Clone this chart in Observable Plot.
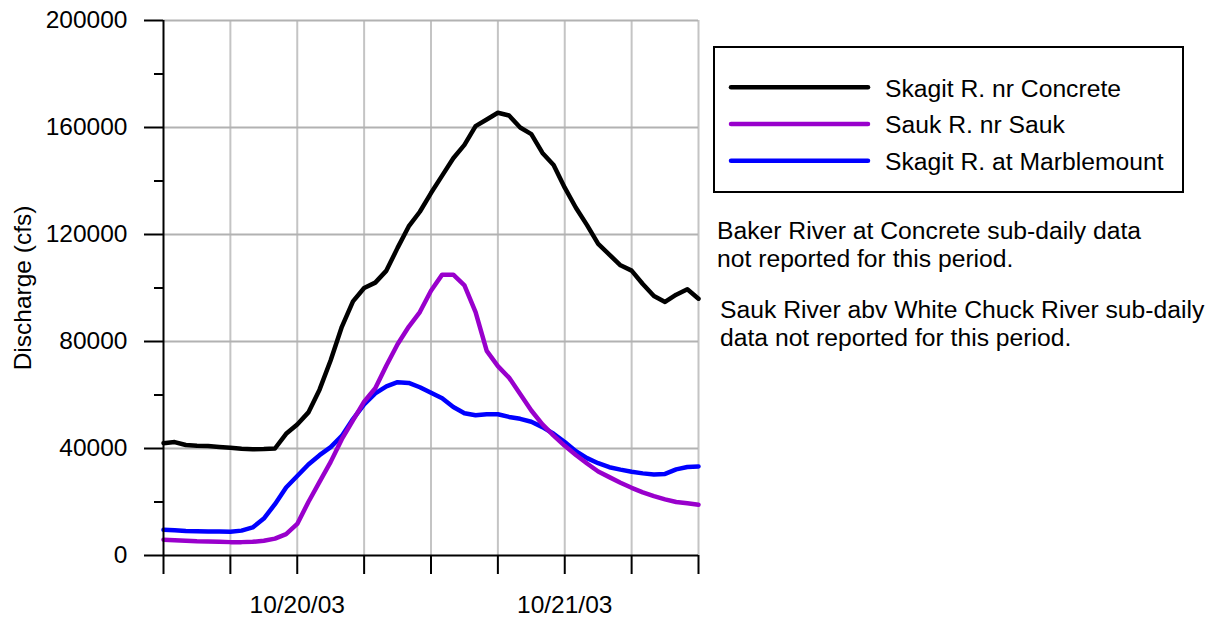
<!DOCTYPE html>
<html>
<head>
<meta charset="utf-8">
<script src="https://cdn.jsdelivr.net/npm/d3@7"></script>
<script src="https://cdn.jsdelivr.net/npm/@observablehq/plot@0.6"></script>
<style>
  html, body { margin: 0; padding: 0; background: #fff; }
  #wrap { position: relative; width: 1213px; height: 619px; font-family: "Liberation Sans", Arial, sans-serif; }
  #overlay { position: absolute; left: 0; top: 0; pointer-events: none; }
</style>
</head>
<body>
<div id="wrap"></div>
<script>
// ---- data (hourly readings from 10/19/03 12:00 to 10/21/03 12:00) ----
const startTime = "2003-10-19T12:00:00Z";
const hourOffsets = [0,1,2,3,4,5,6,7,8,9,10,11,12,13,14,15,16,17,18,19,20,21,22,23,24,
  25,26,27,28,29,30,31,32,33,34,35,36,37,38,39,40,41,42,43,44,45,46,47,48];

const skagitConcrete = [42000,42400,41300,41000,40900,40600,40300,39900,39700,39800,40000,
  45500,49000,53500,62000,73000,85500,95000,100000,102000,106500,115000,123000,128500,135500,
  142000,148500,153500,160500,163000,165500,164500,160000,157500,150500,146000,137500,130000,
  123500,116500,112500,108500,106500,101500,97000,94800,97500,99500,96000];

const saukNrSauk = [5900,5700,5500,5300,5200,5100,5000,5000,5100,5500,6300,8000,11800,20000,
  27500,35000,43500,50500,57500,62500,71000,79000,85500,91000,99000,105000,105000,101000,
  91000,76500,70800,66500,60400,54200,49000,44800,41000,37600,34400,31400,29300,27200,25300,
  23600,22200,21000,20000,19500,19000];

const skagitMarblemount = [9600,9400,9200,9100,9000,9000,8900,9300,10500,13800,19200,25400,
  29700,34000,37500,40500,44700,51000,56500,60600,63200,64800,64500,62900,60800,58800,55500,
  53200,52400,52800,52800,51800,51100,50000,48000,45500,42400,39000,36400,34500,33000,32100,
  31300,30700,30300,30500,32200,33100,33300];

const seriesNames = ["Skagit R. nr Concrete", "Sauk R. nr Sauk", "Skagit R. at Marblemount"];
const seriesColors = ["#000000", "#9900cc", "#0000ff"];
const yTicks = [0, 40000, 80000, 120000, 160000, 200000];
const yMinorTicks = [20000, 60000, 100000, 140000, 180000];
const xTickHours = [0, 6, 12, 18, 24, 30, 36, 42, 48];
const xLabelHours = [12, 36];
const xTickLabels = ["10/20/03", "10/21/03"];
const notes = [
  ["Baker River at Concrete sub-daily data", "not reported for this period."],
  ["Sauk River abv White Chuck River sub-daily", "data not reported for this period."]
];

// ---- build table ----
const t0 = new Date(startTime).getTime();
const toDate = h => new Date(t0 + h * 3600 * 1000);
const valuesBySeries = [skagitConcrete, saukNrSauk, skagitMarblemount];
const rows = [];
// draw order: Marblemount, Sauk, Concrete (black on top)
[2, 1, 0].forEach(si => {
  hourOffsets.forEach((h, i) => {
    rows.push({series: seriesNames[si], time: toDate(h), value: valuesBySeries[si][i]});
  });
});

const xTicks = xTickHours.map(toDate);
const xLabelTicks = xLabelHours.map(toDate);

const chart = Plot.plot({
  width: 1213,
  height: 619,
  marginLeft: 163,
  marginRight: 515,
  marginTop: 20,
  marginBottom: 64,
  style: {fontFamily: '"Liberation Sans", Arial, sans-serif', fontSize: "24px", color: "#000", background: "#fff", overflow: "visible"},
  x: {type: "utc", domain: [toDate(0), toDate(48)]},
  y: {domain: [0, 200000]},
  color: {domain: seriesNames, range: seriesColors},
  marks: [
    Plot.gridX(xTicks.slice(1), {stroke: "#c4c4c4", strokeOpacity: 1, strokeWidth: 2}),
    Plot.gridY(yTicks.slice(1), {stroke: "#b2b2b2", strokeOpacity: 1, strokeWidth: 2}),
    Plot.line(rows, {x: "time", y: "value", z: "series", stroke: "series", strokeWidth: 4.5,
      strokeLinejoin: "round", strokeLinecap: "round"}),
    Plot.ruleY([0], {stroke: "#000", strokeWidth: 2}),
    Plot.ruleX([toDate(0)], {stroke: "#000", strokeWidth: 2}),
    Plot.axisY(yTicks, {tickSize: 19, tickPadding: 17, strokeWidth: 2, fontSize: 24.5,
      tickFormat: d => String(d), label: null}),
    Plot.axisY(yMinorTicks, {tickSize: 9, strokeWidth: 2, tickFormat: () => "", label: null}),
    Plot.axisX(xTicks, {tickSize: 19, strokeWidth: 2, tickFormat: () => "", label: null}),
    Plot.axisX(xLabelTicks, {tickSize: 0, tickPadding: 40, fontSize: 24.5,
      tickFormat: d => xTickLabels[xLabelTicks.findIndex(t => +t === +d)], label: null}),
    Plot.text(["Discharge (cfs)"], {frameAnchor: "left", rotate: -90, dx: -140, fontSize: 24.5,
      text: d => d, textAnchor: "middle"})
  ]
});

const wrap = document.getElementById("wrap");
wrap.appendChild(chart);

// ---- legend and notes overlay ----
const ns = "http://www.w3.org/2000/svg";
const ov = document.createElementNS(ns, "svg");
ov.setAttribute("id", "overlay");
ov.setAttribute("width", 1213);
ov.setAttribute("height", 619);
ov.setAttribute("font-family", '"Liberation Sans", Arial, sans-serif');
ov.setAttribute("font-size", 24.7);
function el(tag, attrs, txt) {
  const e = document.createElementNS(ns, tag);
  for (const k in attrs) e.setAttribute(k, attrs[k]);
  if (txt != null) e.textContent = txt;
  ov.appendChild(e);
  return e;
}
el("rect", {x: 714, y: 47, width: 469, height: 145, fill: "none", stroke: "#000", "stroke-width": 2});
seriesNames.forEach((name, i) => {
  const yc = 87.3 + i * 36.7;
  el("line", {x1: 731, x2: 868, y1: yc, y2: yc, stroke: seriesColors[i], "stroke-width": 4.5, "stroke-linecap": "round"});
  el("text", {x: 885, y: yc + 9.4, fill: "#000"}, name);
});
el("text", {x: 717, y: 239.3, fill: "#000"}, notes[0][0]);
el("text", {x: 717, y: 266.7, fill: "#000"}, notes[0][1]);
el("text", {x: 720, y: 318.3, fill: "#000"}, notes[1][0]);
el("text", {x: 720, y: 345.5, fill: "#000"}, notes[1][1]);
wrap.appendChild(ov);
</script>
</body>
</html>
